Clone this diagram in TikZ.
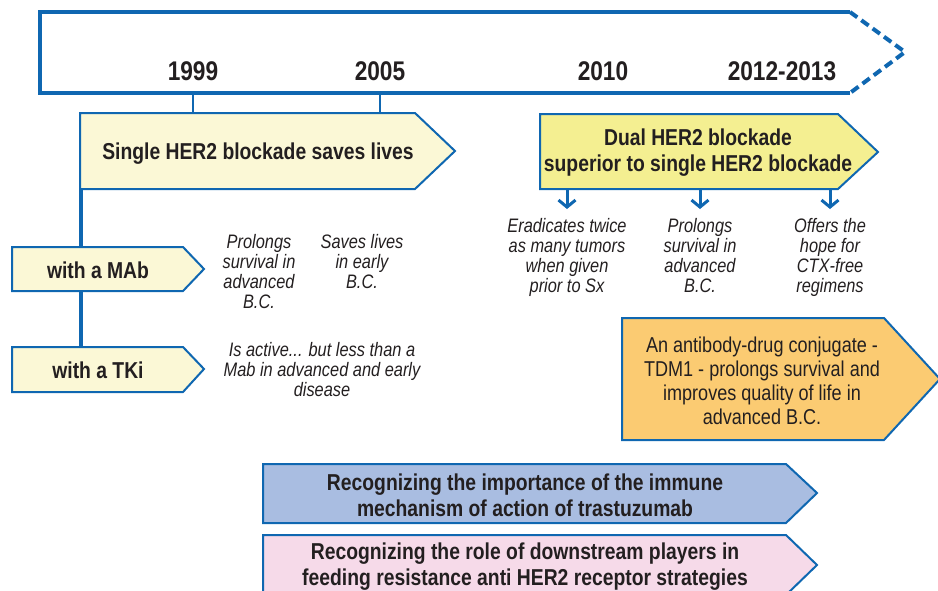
\documentclass[tikz,border=0pt]{standalone}
\usepackage{fontspec}
\setmainfont{Liberation Sans}[FakeStretch=0.84]
\usetikzlibrary{arrows.meta,positioning,calc}
\definecolor{tline}{HTML}{0F67B1}
\definecolor{pale}{HTML}{FBF8D6}
\definecolor{dual}{HTML}{F4EF91}
\definecolor{adc}{HTML}{FBCB72}
\definecolor{immu}{HTML}{A9BDE1}
\definecolor{downs}{HTML}{F6DAE9}
\definecolor{ink}{HTML}{231F20}
\tikzset{
  year/.style={font=\fontsize{27}{30}\selectfont\bfseries, text=ink, inner sep=0pt},
  band/.style={draw=tline, line width=2pt, fill=#1, line join=miter},
  head/.style={font=\fontsize{23}{26}\selectfont\bfseries, text=ink, align=center, inner sep=0pt},
  note/.style={font=\fontsize{19.5}{20}\selectfont\itshape, text=ink, align=center, inner sep=0pt},
  plain/.style={font=\fontsize{21.5}{24}\selectfont, text=ink, align=center, inner sep=0pt},
  axis/.style={draw=tline, line width=4pt},
  tick/.style={draw=tline, line width=2pt},
  darr/.style={-{Straight Barb[length=7pt, width=17pt]}, draw=tline, line width=3pt},
}
\begin{document}
\begin{tikzpicture}[x=1pt, y=-1pt]
    \useasboundingbox (0,0) rectangle (938,590);
    \clip (0,0) rectangle (938,590);
    \draw[axis, line join=miter] (850,12) -- (40,12) -- (40,93) -- (850,93);
    \draw[axis, dash pattern=on 9pt off 5pt] (850,12) -- (905,52) -- (850,93);
    \coordinate (axisbot) at (0,93);
    \node[year] (y1999) at (193,71) {1999};
    \node[year] (y2005) at (380,71) {2005};
    \node[year] (y2010) at (603,71) {2010};
    \node[year] (y2012) at (782,71) {2012-2013};
    \coordinate (sgtop) at (0,113);
    \draw[tick] (y1999 |- axisbot) -- (y1999 |- sgtop);
    \draw[tick] (y2005 |- axisbot) -- (y2005 |- sgtop);
    \draw[axis] (81,189) -- (81,347);
    \draw[band=pale] (80,113) -- (415,113) -- (455,151) -- (415,189) -- (80,189) -- cycle;
    \node[head] (single) at (258,154) {Single HER2 blockade saves lives};
    \draw[band=pale] (12,247) -- (183,247) -- (204,269) -- (183,291) -- (12,291) -- cycle;
    \node[head] (mab) at (98,270) {with a MAb};
    \draw[band=pale] (12,347) -- (183,347) -- (204,369) -- (183,392) -- (12,392) -- cycle;
    \node[head] (tki) at (98,370) {with a TKi};
    \node[note, anchor=north] (prolong1) at (259,234) {Prolongs\\survival in\\advanced\\B.C.};
    \node[note, anchor=north] (saves) at (362,234) {Saves lives\\in early\\B.C.};
    \node[note, anchor=north] (active) at (322,342) {Is active... but less than a\\Mab in advanced and early\\disease};
    \draw[band=dual] (540,114) -- (838,114) -- (878,152) -- (838,189) -- (540,189) -- cycle;
    \node[head] (dualb) at (698,153) {Dual HER2 blockade\\superior to single HER2 blockade};
    \coordinate (dbot) at (0,189);
    \node[note, anchor=north] (erad) at (567,218) {Eradicates twice\\as many tumors\\when given\\prior to Sx};
    \node[note, anchor=north] (prolong2) at (700,218) {Prolongs\\survival in\\advanced\\B.C.};
    \node[note, anchor=north] (offers) at (830,218) {Offers the\\hope for\\CTX-free\\regimens};
    \draw[darr] (erad |- dbot) -- ++(0,20);
    \draw[darr] (prolong2 |- dbot) -- ++(0,20);
    \draw[darr] (offers |- dbot) -- ++(0,20);
    \draw[band=adc] (622,318) -- (884,318) -- (940,379) -- (884,440) -- (622,440) -- cycle;
    \node[plain] (tdm) at (762,381) {An antibody-drug conjugate -\\TDM1 - prolongs survival and\\improves quality of life in\\advanced B.C.};
    \draw[band=immu] (263,464) -- (786,464) -- (817,493) -- (786,523) -- (263,523) -- cycle;
    \node[head] (immune) at (525,495) {Recognizing the importance of the immune\\mechanism of action of trastuzumab};
    \draw[band=downs] (263,535) -- (786,535) -- (817,565) -- (786,595) -- (263,595) -- cycle;
    \node[head] (players) at (525,567) {Recognizing the role of downstream players in\\feeding resistance anti HER2 receptor strategies};
  \end{tikzpicture}
\end{document}
